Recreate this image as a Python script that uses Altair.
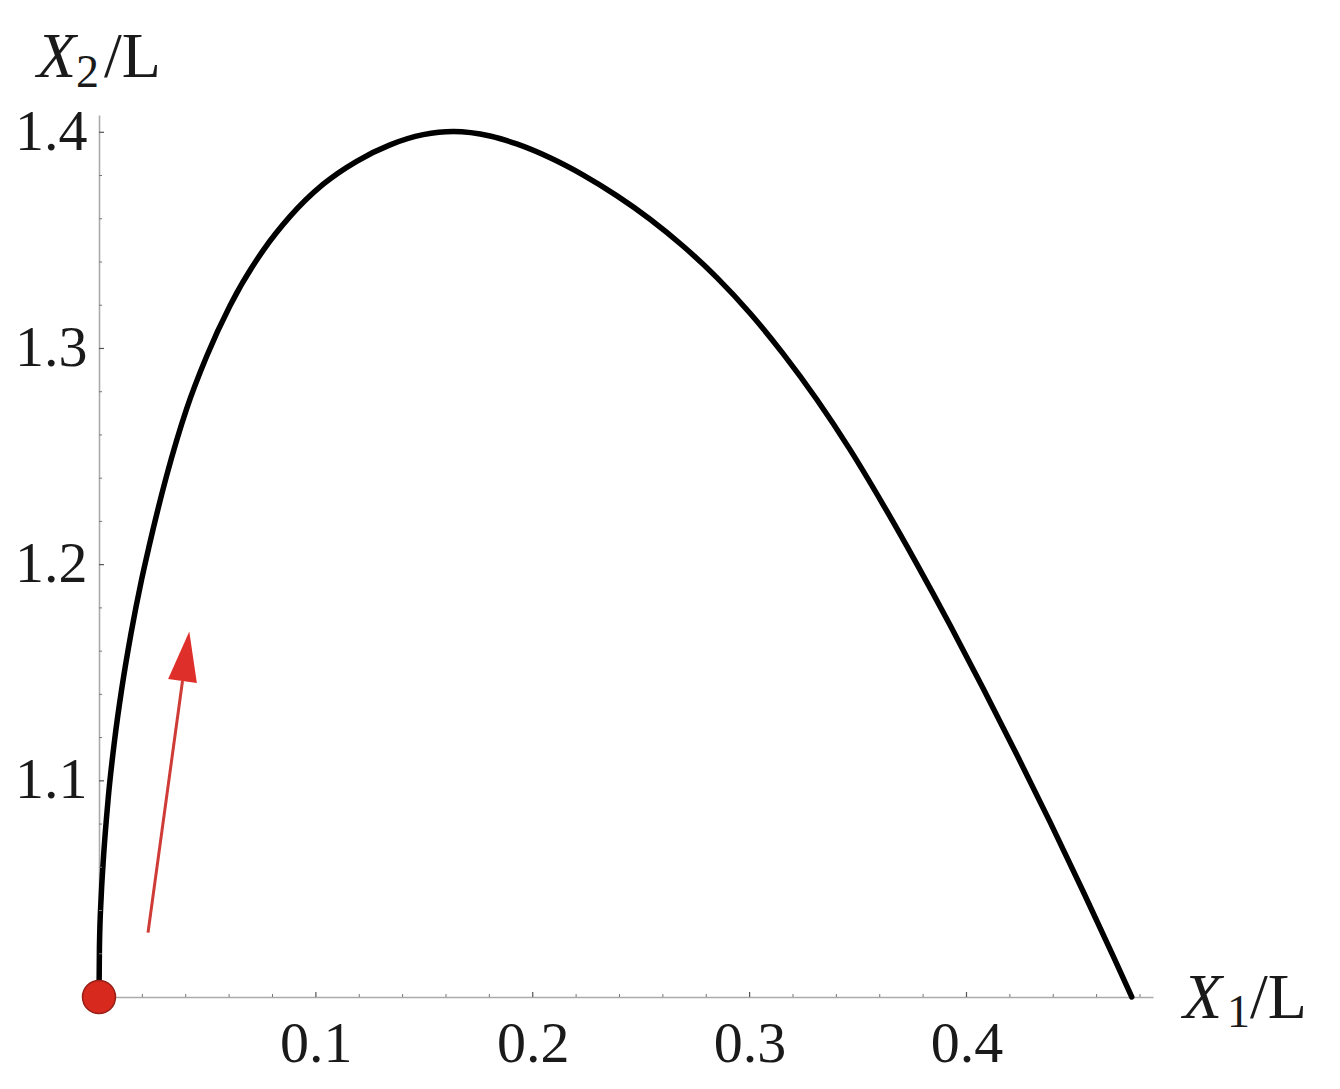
import altair as alt
import pandas as pd

# ---- data ----
curve_x = [0.0, 0.0002, 0.0010, 0.0019, 0.0043, 0.0072, 0.0104, 0.0148, 0.0196,
           0.0230, 0.0310, 0.0404, 0.0496, 0.0604, 0.0758, 0.0881, 0.1034, 0.1188,
           0.1342, 0.1495, 0.1634, 0.1803, 0.1926, 0.2080, 0.2233, 0.2387, 0.2541,
           0.2694, 0.2848, 0.3002, 0.3155, 0.3309, 0.3463, 0.3616, 0.3770, 0.3924,
           0.4077, 0.4231, 0.4385, 0.4538, 0.4677, 0.4762]
curve_y = [1.0, 1.0231, 1.0463, 1.0620, 1.0925, 1.1189, 1.1420, 1.1684, 1.1929,
           1.2081, 1.2405, 1.2721, 1.2963, 1.3198, 1.3455, 1.3611, 1.3760, 1.3866,
           1.3942, 1.3989, 1.4004, 1.3983, 1.3946, 1.3882, 1.3802, 1.3707, 1.3598,
           1.3473, 1.3329, 1.3163, 1.2975, 1.2765, 1.2532, 1.2277, 1.2005, 1.1721,
           1.1427, 1.1123, 1.0810, 1.0488, 1.0188, 1.0]

start_x = [0.0]
start_y = [1.0]

arrow_x = [0.0226, 0.0385]
arrow_y = [1.0298, 1.1462]

x_major = [0.1, 0.2, 0.3, 0.4]
y_major = [1.1, 1.2, 1.3, 1.4]
x_minor = [0.02, 0.04, 0.06, 0.08, 0.12, 0.14, 0.16, 0.18, 0.22, 0.24, 0.26, 0.28,
           0.32, 0.34, 0.36, 0.38, 0.42, 0.44, 0.46, 0.48]
y_minor = [1.02, 1.04, 1.06, 1.08, 1.12, 1.14, 1.16, 1.18, 1.22, 1.24, 1.26, 1.28,
           1.32, 1.34, 1.36, 1.38]

# ---- layout ----
W, H = 1054, 882
FONT = "Liberation Serif"
TXT = "#1a1a1a"
RED = "#d8291f"

xs = alt.Scale(domain=[0, 0.486], nice=False, zero=False)
ys = alt.Scale(domain=[1.0, 1.408], nice=False, zero=False)

x_axis = alt.Axis(
    values=x_major, format=".1f", ticks=False, grid=False, title=None,
    domainColor="#ababab", domainWidth=1.6,
    labelFont=FONT, labelFontSize=58, labelColor=TXT, labelPadding=18,
    labelFlush=False, labelOverlap=False)
y_axis = alt.Axis(
    values=y_major, format=".1f", ticks=False, grid=False, title=None,
    domainColor="#ababab", domainWidth=1.6,
    labelFont=FONT, labelFontSize=58, labelColor=TXT, labelPadding=12,
    labelFlush=False, labelOverlap=False)


def X(f):
    return alt.X(f, scale=xs, axis=x_axis)


def Y(f):
    return alt.Y(f, scale=ys, axis=y_axis)


curve_df = pd.DataFrame({"x": curve_x, "y": curve_y})

curve = alt.Chart(curve_df).mark_line(
    color="black", strokeWidth=5.5, interpolate="monotone", strokeCap="round"
).encode(x=X("x:Q"), y=Y("y:Q"), order=alt.Order("x:Q"))

# inward tick marks (Mathematica style)
xmaj = alt.Chart(pd.DataFrame({"x": x_major})).mark_rule(color="#555", strokeWidth=1.2).encode(
    x=X("x:Q"), y=alt.value(H), y2=alt.value(H - 5))
xmin = alt.Chart(pd.DataFrame({"x": x_minor})).mark_rule(color="#777", strokeWidth=1).encode(
    x=X("x:Q"), y=alt.value(H), y2=alt.value(H - 3))
ymaj = alt.Chart(pd.DataFrame({"y": y_major})).mark_rule(color="#555", strokeWidth=1.2).encode(
    y=Y("y:Q"), x=alt.value(0), x2=alt.value(5))
ymin = alt.Chart(pd.DataFrame({"y": y_minor})).mark_rule(color="#777", strokeWidth=1).encode(
    y=Y("y:Q"), x=alt.value(0), x2=alt.value(3))

# red arrow
arrow_df = pd.DataFrame({"x": [arrow_x[0]], "y": [arrow_y[0]], "x2": [arrow_x[1]], "y2": [arrow_y[1]]})
shaft = alt.Chart(arrow_df).mark_rule(color="#cf3b36", strokeWidth=3).encode(
    x=X("x:Q"), y=Y("y:Q"), x2="x2:Q", y2="y2:Q")
head = alt.Chart(arrow_df).mark_point(
    shape="M0,-2L-0.58,0L0.58,0Z", size=2500, filled=True, color="#de2f2a",
    opacity=1, angle=7.8, strokeWidth=0
).encode(x=X("x2:Q"), y=Y("y2:Q"))

# start point
dot = alt.Chart(pd.DataFrame({"x": start_x, "y": start_y})).mark_point(
    shape="circle", size=1089, filled=True, fill=RED, stroke="#962018",
    strokeWidth=1.5, opacity=1
).encode(x=X("x:Q"), y=Y("y:Q"))


def txt(s, px, py, size, italic=False):
    return alt.Chart(pd.DataFrame({"t": [s]})).mark_text(
        font=FONT, fontSize=size, fontStyle="italic" if italic else "normal",
        color=TXT, align="left", baseline="alphabetic"
    ).encode(text="t:N", x=alt.value(px), y=alt.value(py))


titles = [
    # X2/L (vertical axis)
    txt("X", -62, -38, 64, True),
    txt("2", -23, -28, 46),
    txt("/L", 5, -38, 64),
    # X1/L (horizontal axis)
    txt("X", 1084, 903, 64, True),
    txt("1", 1128, 912, 46),
    txt("/L", 1151, 903, 64),
]

chart = alt.layer(curve, xmin, xmaj, ymin, ymaj, shaft, head, dot, *titles).properties(
    width=W, height=H,
    autosize=alt.AutoSizeParams(type="none"),
    padding={"left": 91, "top": 107, "right": 170, "bottom": 80},
    background="white",
).configure_view(stroke=None)

chart.save("out.html", embed_options={"renderer": "svg", "actions": False})
